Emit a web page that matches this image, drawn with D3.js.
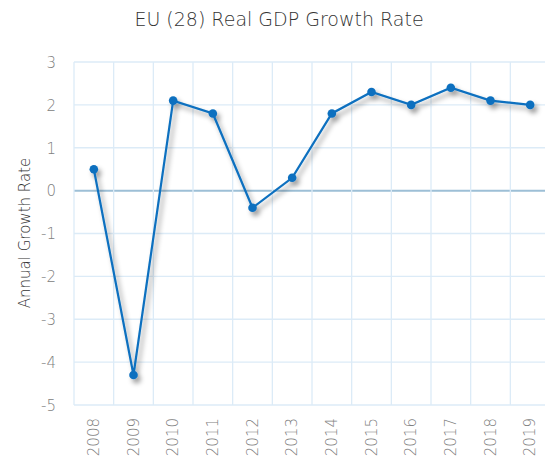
<!DOCTYPE html>
<html>
<head>
<meta charset="utf-8">
<script src="https://cdn.jsdelivr.net/npm/d3@7"></script>
<style>
  body { margin: 0; background: #fff; }
  svg text { font-family: "DejaVu Sans", Lato, sans-serif; font-weight: 200; }
</style>
</head>
<body>
<svg id="chart"></svg>
<script>
'use strict';

// chart data
var years = ['2008', '2009', '2010', '2011', '2012', '2013', '2014', '2015', '2016', '2017', '2018', '2019'];
var growth = [0.5, -4.3, 2.1, 1.8, -0.4, 0.3, 1.8, 2.3, 2.0, 2.4, 2.1, 2.0];
var yTicks = [3, 2, 1, 0, -1, -2, -3, -4, -5];

var width = 545;
var height = 458;
var margin = { top: 62, right: -5, bottom: 53, left: 74 };

var svg = d3.select('#chart')
  .attr('width', width)
  .attr('height', height);

// drop shadow for the line
var defs = svg.append('defs');
var shadow = defs.append('filter').attr('id', 'shadow')
  .attr('x', '-20%').attr('y', '-20%').attr('width', '140%').attr('height', '140%');
shadow.append('feDropShadow')
  .attr('dx', 3).attr('dy', 4)
  .attr('stdDeviation', 2.6)
  .attr('flood-color', '#000')
  .attr('flood-opacity', 0.4);

var x = d3.scaleBand()
  .domain(years)
  .range([margin.left, width - margin.right]);

var y = d3.scaleLinear()
  .domain([-5, 3])
  .range([height - margin.bottom, margin.top]);

//Title
svg.append('text')
  .attr('x', 279)
  .attr('y', 26)
  .attr('text-anchor', 'middle')
  .attr('fill', '#333')
  .style('font-size', '19px')
  .text('EU (28) Real GDP Growth Rate');

//Grid lines
var grid = svg.append('g');
grid.selectAll('.hgrid').data(yTicks).enter().append('line')
  .attr('x1', margin.left).attr('x2', width - margin.right)
  .attr('y1', function (d) { return y(d); })
  .attr('y2', function (d) { return y(d); })
  .attr('stroke', function (d) { return d === 0 ? '#9dbfd6' : '#dcebf7'; })
  .attr('stroke-width', function (d) { return d === 0 ? 2 : 1.3; });

grid.selectAll('.vgrid').data(years).enter().append('line')
  .attr('x1', function (d) { return x(d); })
  .attr('x2', function (d) { return x(d); })
  .attr('y1', y(3)).attr('y2', y(-5))
  .attr('stroke', '#dcebf7')
  .attr('stroke-width', 1.3);

//Y axis labels
var yAxis = svg.append('g')
  .attr('transform', 'translate(' + (margin.left - 15) + ',0)')
  .call(d3.axisLeft(y).tickValues(yTicks).tickSize(0).tickFormat(function (d) { return String(d); }));
yAxis.select('.domain').remove();
yAxis.selectAll('text')
  .attr('fill', '#808080')
  .style('font-size', '15px')
  .attr('dy', '0.35em');

//X axis labels
var xAxis = svg.append('g')
  .attr('transform', 'translate(0,' + (height - margin.bottom) + ')')
  .call(d3.axisBottom(x).tickSize(0));
xAxis.select('.domain').remove();
xAxis.selectAll('text')
  .attr('fill', '#808080')
  .style('font-size', '15px')
  .attr('text-anchor', 'end')
  .attr('transform', 'rotate(-90)')
  .attr('x', -13)
  .attr('y', 0)
  .attr('dy', '0.35em');

//Y axis title
svg.append('text')
  .attr('transform', 'translate(30,' + 233 + ') rotate(-90)')
  .attr('text-anchor', 'middle')
  .attr('fill', '#333')
  .style('font-size', '15px')
  .text('Annual Growth Rate');

//Line and points
var pts = years.map(function (d, i) { return [x(d) + x.bandwidth() / 2, y(growth[i])]; });
var series = svg.append('g').attr('filter', 'url(#shadow)');

series.append('path')
  .attr('d', d3.line()(pts))
  .attr('fill', 'none')
  .attr('stroke', '#0a6fbf')
  .attr('stroke-width', 2.2);

series.selectAll('circle').data(pts).enter().append('circle')
  .attr('cx', function (d) { return d[0]; })
  .attr('cy', function (d) { return d[1]; })
  .attr('r', 4.3)
  .attr('fill', '#0a6fbf');
</script>
</body>
</html>
